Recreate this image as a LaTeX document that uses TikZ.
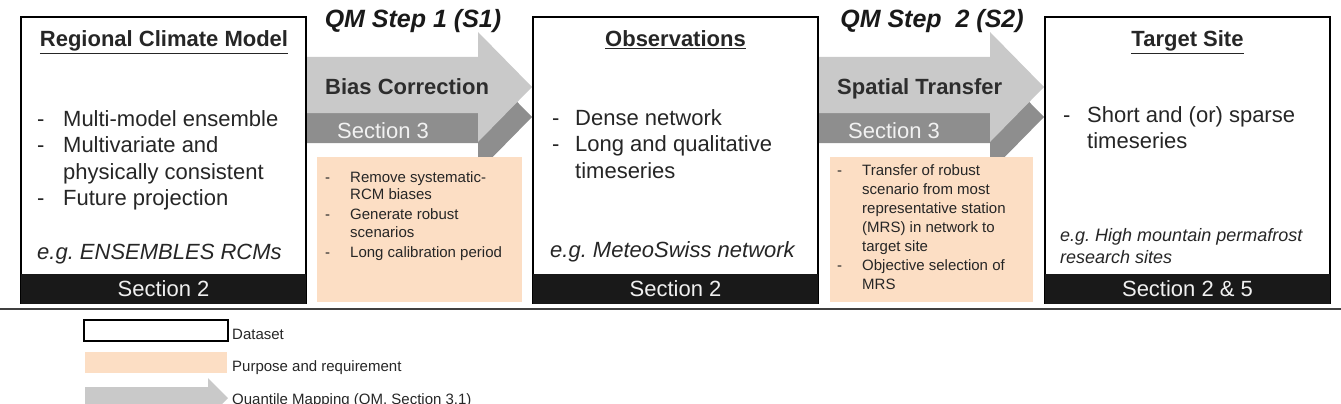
\documentclass[tikz,border=0pt]{standalone}
\usepackage{fontspec}
\setmainfont{Liberation Sans}
\usetikzlibrary{positioning,calc}
\frenchspacing

\definecolor{peach}{RGB}{252,222,196}
\definecolor{arrowlight}{RGB}{201,201,201}
\definecolor{arrowdark}{RGB}{142,142,142}
\definecolor{labelgray}{RGB}{45,45,45}

% dash item and continued line, fixed dash column
\newcommand{\dashitem}[2][25pt]{\makebox[#1][l]{-}#2}
\newcommand{\contline}[2][25pt]{\hspace*{#1}#2}

\begin{document}
\begin{tikzpicture}[x=1pt, y=-1pt,
    dataset/.style={draw=black, line width=1.6pt, fill=white, minimum width=285pt, minimum height=286pt, inner sep=0pt},
    secbar/.style={fill=black!90, text=white!94!black, minimum width=285pt, minimum height=30pt, inner sep=0pt, font=\fontsize{22}{26.5}\selectfont},
    purpose/.style={fill=peach, inner sep=0pt, minimum height=145pt},
    title/.style={anchor=base, inner sep=0pt, text=black!85, font=\fontsize{22}{26.5}\selectfont\bfseries},
    listtxt/.style={align=left, anchor=base west, inner sep=0pt, text=black!85, font=\fontsize{22}{26.5}\selectfont},
    egtxt/.style={align=left, anchor=base west, inner sep=0pt, text=black!85, font=\fontsize{22}{26.5}\selectfont\itshape},
    reqtxt/.style={align=left, anchor=base west, inner sep=0pt, text=black!85, font=\fontsize{15}{17.5}\selectfont},
    steplabel/.style={anchor=base, inner sep=0pt, text=black!90, font=\fontsize{25}{30}\selectfont\bfseries\itshape},
    arrowname/.style={anchor=base west, inner sep=0pt, text=labelgray, font=\fontsize{22}{26.5}\selectfont\bfseries},
    arrowsec/.style={anchor=base west, inner sep=0pt, text=white!95!black, font=\fontsize{22}{26.5}\selectfont},
    legtxt/.style={anchor=base west, inner sep=0pt, text=black!85, font=\fontsize{15}{18}\selectfont},
]
\useasboundingbox (0,0) rectangle (1341,404);
\clip (0,0) rectangle (1341,404);

% QM arrows: dark shadow first, light arrow on top
\foreach \xs/\xh in {300/478, 812/990}{
  \fill[arrowdark] (\xs,87) -- (\xh,87) -- (\xh,62) -- ({\xh+54},117) -- (\xh,172) -- (\xh,143) -- (\xs,143) -- cycle;
  \fill[arrowlight] (\xs,57) -- (\xh,57) -- (\xh,32) -- ({\xh+54},87) -- (\xh,142) -- (\xh,113) -- (\xs,113) -- cycle;
}

% purpose and requirement boxes
\node[purpose, minimum width=205pt] (req1) at (419.5,229.5) {};
\node[purpose, minimum width=203pt] (req2) at (931.5,229.5) {};

% datasets
\node[dataset] (rcm) at (163.5,160) {};
\node[dataset] (obs) at (675.5,160) {};
\node[dataset] (site) at (1187.5,160) {};
\node[secbar, anchor=south] (rcmsec) at (rcm.south) {Section 2};
\node[secbar, anchor=south] (obssec) at (obs.south) {Section 2};
\node[secbar, anchor=south] (sitesec) at (site.south) {Section 2 \& 5};

\node[title] (rcmtitle) at (164,47) {\underline{Regional Climate Model}};
\node[title] (obstitle) at (675.5,47) {\underline{Observations}};
\node[title] (sitetitle) at (1187.5,47) {\underline{Target Site}};

% multi-line nodes sit on the baseline of their last line
\node[listtxt] (rcmlist) at (37,205.5) {\dashitem[26pt]{Multi-model ensemble}\\
  \dashitem[26pt]{Multivariate and}\\ \contline[26pt]{physically consistent}\\
  \dashitem[26pt]{Future projection}};
\node[listtxt] (obslist) at (552,178) {\dashitem[23pt]{Dense network}\\
  \dashitem[23pt]{Long and qualitative}\\ \contline[23pt]{timeseries}};
\node[listtxt] (sitelist) at (1063,148.5) {\dashitem[24pt]{Short and (or) sparse}\\
  \contline[24pt]{timeseries}};

\node[egtxt] (rcmeg) at (37,259) {e.g. ENSEMBLES RCMs};
\node[egtxt] (obseg) at (550,257) {e.g. MeteoSwiss network};
\node[egtxt, font=\fontsize{18}{22.5}\selectfont\itshape] (siteeg) at (1060,263.5) {e.g. High mountain permafrost\\research sites};

% arrow labels
\node[steplabel] (step1) at (413,28) {QM Step 1 (S1)};
\node[steplabel] (step2) at (932,28) {QM Step\ \ 2 (S2)};
\node[arrowname] (biascorr) at (325,94) {Bias Correction};
\node[arrowname] (spattrans) at (837,94) {Spatial Transfer};
\node[arrowsec] (sec3a) at (337,138) {Section 3};
\node[arrowsec] (sec3b) at (848,138) {Section 3};

\node[reqtxt] (req1txt) at (325,257) {\dashitem{Remove systematic-}\\ \contline{RCM biases}\\[2.5pt]
  \dashitem{Generate robust}\\ \contline{scenarios}\\[2.5pt]
  \dashitem{Long calibration period}};
\node[reqtxt, font=\fontsize{15}{19}\selectfont] (req2txt) at (837,289) {\dashitem{Transfer of robust}\\
  \contline{scenario from most}\\ \contline{representative station}\\
  \contline{(MRS) in network to}\\ \contline{target site}\\
  \dashitem{Objective selection of}\\ \contline{MRS}};

% separator
\coordinate (sepl) at (0,309);
\coordinate (sepr) at (1341,309);
\draw[line width=1.5pt, black!75] (sepl) -- (sepr);

% legend
\node[dataset, minimum width=144pt, minimum height=21pt] (legdata) at (156,330.5) {};
\node[legtxt] (legdatatxt) at (232,339) {Dataset};
\node[purpose, minimum width=142pt, minimum height=21pt] (legreq) at (156,362.5) {};
\node[legtxt] (legreqtxt) at (232,371) {Purpose and requirement};
\fill[arrowlight] (85,387) -- (208,387) -- (208,378) -- (228,398) -- (208,418) -- (208,409) -- (85,409) -- cycle;
\node[legtxt] (legqmtxt) at (232,404) {Quantile Mapping (QM, Section 3.1)};
\end{tikzpicture}
\end{document}
